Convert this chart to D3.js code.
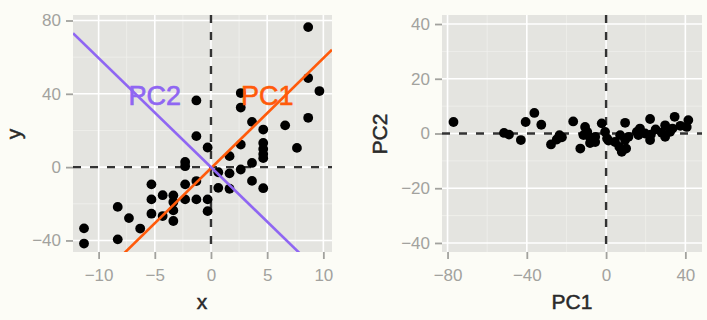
<!DOCTYPE html>
<html>
<head>
<meta charset="utf-8">
<script src="https://cdn.jsdelivr.net/npm/d3@7"></script>
<style>
  body { margin: 0; background: #fcfcf6; }
  svg { display: block; font-family: 'Liberation Sans', Arial, sans-serif; }
</style>
</head>
<body>
<svg width="707" height="320"></svg>
<script>
// raw data, left panel (x, y)
const rawX = [-11.3, -11.3, -8.3, -8.3, -7.3, -6.3, -5.3, -5.3, -5.3, -4.3, -4.3, -3.35, -3.35, -3.35, -3.35,
  -2.3, -2.3, -2.3, -2.3, -1.3, -1.3, -1.3, -1.3, -0.3, -0.3, -0.3, 0.65, 0.65, 1.65, 1.65, 1.65,
  2.65, 2.65, 2.65, 2.65, 3.65, 3.65, 3.65, 4.65, 4.65, 4.65, 4.65, 4.65, 4.65, 6.6, 7.65, 8.65, 8.65, 8.65, 9.65];
const rawY = [-33.4, -41.7, -21.7, -39.4, -27.8, -33.5, -9.4, -17.6, -25.4, -15.3, -26.7, -15.4, -19, -23.6, -29.4,
  2.8, 0.5, -9.4, -17.6, 36.4, 16.9, -7.6, -17.6, 10.7, -17.6, -24, -2.8, -11.3, 6, -3.4, -11.8,
  40.4, 32.5, 12.3, -1.3, 24.7, 2.3, -7.5, 20.5, 13.2, 9.9, 7.1, 4.9, -11.5, 22.8, 10.5, 76.4, 48.6, 26.9, 41.5];

// principal component scores, right panel
const pc1 = [-77, -51.5, -49, -43, -40.6, -36.2, -32.7, -27.8, -24.9, -23.5, -22.3, -16.6, -13, -11.4, -10.6,
  -9.5, -8.1, -8.1, -5.5, -5.5, -2.2, -0.5, 0.5, 1.2, 4.5, 6.7, 7.1, 7.9, 9.6, 9.6, 10.1, 11.3, 15.5,
  16.3, 17.1, 19.7, 22.2, 22.6, 22.2, 25, 28.1, 29.8, 29.8, 32.3, 33.5, 34.6, 37.5, 40.7, 41.5];
const pc2 = [4.2, 0.2, -0.4, -2.4, 4.2, 7.5, 3.2, -4, -2.2, -0.6, -1.4, 4.4, -5.5, -0.6, 2.4,
  0.6, -1.5, -3.5, -3.1, -1.2, 3.7, 0.6, -1.8, -2.6, -3.1, -4.9, -0.6, -6.7, 3.9, -2.4, -5.5, -1.2, 0.6,
  -0.6, 1.8, 0, 5.3, -0.4, -2.4, 1.5, 0.3, 3, -1.2, 0.6, 1.8, 6.1, 2.8, 2.4, 4.9];

// component directions drawn over the raw data
const pcLines = [
  { name: 'PC1', slope: 6.0, intercept: -0.6, labelX: 5, labelY: 39, color: '#ff5a0a' },
  { name: 'PC2', slope: -5.95, intercept: 0, labelX: -5, labelY: 39, color: '#8f66f2' }
];

const leftXTicks = [-10, -5, 0, 5, 10];
const leftYTicks = [-40, 0, 40, 80];
const rightXTicks = [-80, -40, 0, 40];
const rightYTicks = [-40, -20, 0, 20, 40];

const svg = d3.select('svg');

function panel(opts) {
  const { left, top, width, height, xDomain, yDomain, xTicks, yTicks, xMinor, yMinor, id } = opts;
  const x = d3.scaleLinear().domain(xDomain).range([left, left + width]);
  const y = d3.scaleLinear().domain(yDomain).range([top + height, top]);

  svg.append('clipPath').attr('id', id)
    .append('rect').attr('x', left).attr('y', top).attr('width', width).attr('height', height);

  svg.append('rect')
    .attr('x', left).attr('y', top).attr('width', width).attr('height', height)
    .attr('fill', '#e4e4e0');

  const g = svg.append('g').attr('clip-path', `url(#${id})`);

  // minor grid
  g.selectAll('.xminor').data(xMinor).enter().append('line')
    .attr('x1', d => x(d)).attr('x2', d => x(d)).attr('y1', top).attr('y2', top + height)
    .attr('stroke', '#f0f0ec').attr('stroke-width', 0.8);
  g.selectAll('.yminor').data(yMinor).enter().append('line')
    .attr('y1', d => y(d)).attr('y2', d => y(d)).attr('x1', left).attr('x2', left + width)
    .attr('stroke', '#f0f0ec').attr('stroke-width', 0.8);
  // major grid
  g.selectAll('.xmajor').data(xTicks).enter().append('line')
    .attr('x1', d => x(d)).attr('x2', d => x(d)).attr('y1', top).attr('y2', top + height)
    .attr('stroke', '#ffffff').attr('stroke-width', 1.6);
  g.selectAll('.ymajor').data(yTicks).enter().append('line')
    .attr('y1', d => y(d)).attr('y2', d => y(d)).attr('x1', left).attr('x2', left + width)
    .attr('stroke', '#ffffff').attr('stroke-width', 1.6);

  // axes (ticks + labels only, no domain line)
  const xAxis = svg.append('g')
    .attr('transform', `translate(0,${top + height})`)
    .call(d3.axisBottom(x).tickValues(xTicks).tickSize(7).tickPadding(6));
  const yAxis = svg.append('g')
    .attr('transform', `translate(${left},0)`)
    .call(d3.axisLeft(y).tickValues(yTicks).tickSize(7).tickPadding(5));
  [xAxis, yAxis].forEach(a => {
    a.select('.domain').remove();
    a.selectAll('line').attr('stroke', '#a2a29e').attr('stroke-width', 1.8);
    a.selectAll('text').attr('fill', '#a2a29e').style('font-size', '17px')
      .style('font-family', "'Liberation Sans', Arial, sans-serif");
  });
  xAxis.selectAll('text').attr('dy', '0.95em');

  // dashed zero lines
  g.append('line')
    .attr('x1', x(0)).attr('x2', x(0)).attr('y1', top).attr('y2', top + height)
    .attr('stroke', '#333').attr('stroke-width', 2.4).attr('stroke-dasharray', '8,9');
  g.append('line')
    .attr('y1', y(0)).attr('y2', y(0)).attr('x1', left).attr('x2', left + width)
    .attr('stroke', '#333').attr('stroke-width', 2.4).attr('stroke-dasharray', '8,9');

  return { x, y, g };
}

// left panel: raw data
const L = panel({
  id: 'clipL', left: 73, top: 15, width: 259, height: 237,
  xDomain: [-12.28, 10.77], yDomain: [-46.3, 83],
  xTicks: leftXTicks, yTicks: leftYTicks,
  xMinor: [-7.5, -2.5, 2.5, 7.5], yMinor: [-20, 20, 60]
});

L.g.selectAll('circle').data(rawX).enter().append('circle')
  .attr('cx', d => L.x(d))
  .attr('cy', (d, i) => L.y(rawY[i]))
  .attr('r', 4.9)
  .attr('fill', '#000');

const xs = L.x.domain();
pcLines.forEach(p => {
  L.g.append('line')
    .attr('x1', L.x(xs[0])).attr('y1', L.y(p.intercept + p.slope * xs[0]))
    .attr('x2', L.x(xs[1])).attr('y2', L.y(p.intercept + p.slope * xs[1]))
    .attr('stroke', p.color).attr('stroke-width', 2.6);
});
pcLines.forEach(p => {
  svg.append('text')
    .attr('x', L.x(p.labelX)).attr('y', L.y(p.labelY))
    .attr('text-anchor', 'middle').attr('dominant-baseline', 'central')
    .attr('fill', p.color).style('font-size', '27px')
    .attr('stroke', p.color).attr('stroke-width', 0.6)
    .text(p.name);
});

svg.append('text').attr('x', 202).attr('y', 309).attr('text-anchor', 'middle')
  .attr('fill', '#2a2a2a').attr('stroke', '#2a2a2a').attr('stroke-width', 0.5)
  .style('font-size', '21px').text('x');
svg.append('text').attr('transform', 'translate(21,134) rotate(-90)').attr('text-anchor', 'middle')
  .attr('fill', '#2a2a2a').attr('stroke', '#2a2a2a').attr('stroke-width', 0.5)
  .style('font-size', '21px').text('y');

// right panel: scores
const R = panel({
  id: 'clipR', left: 442, top: 15, width: 260, height: 237,
  xDomain: [-82.8, 48.4], yDomain: [-43.3, 43.3],
  xTicks: rightXTicks, yTicks: rightYTicks,
  xMinor: [-60, -20, 20], yMinor: [-30, -10, 10, 30]
});

R.g.selectAll('circle').data(pc1).enter().append('circle')
  .attr('cx', d => R.x(d))
  .attr('cy', (d, i) => R.y(pc2[i]))
  .attr('r', 4.9)
  .attr('fill', '#000');

svg.append('text').attr('x', 572).attr('y', 309).attr('text-anchor', 'middle')
  .attr('fill', '#2a2a2a').attr('stroke', '#2a2a2a').attr('stroke-width', 0.5)
  .style('font-size', '21px').text('PC1');
svg.append('text').attr('transform', 'translate(387,134) rotate(-90)').attr('text-anchor', 'middle')
  .attr('fill', '#2a2a2a').attr('stroke', '#2a2a2a').attr('stroke-width', 0.5)
  .style('font-size', '21px').text('PC2');
</script>
</body>
</html>
